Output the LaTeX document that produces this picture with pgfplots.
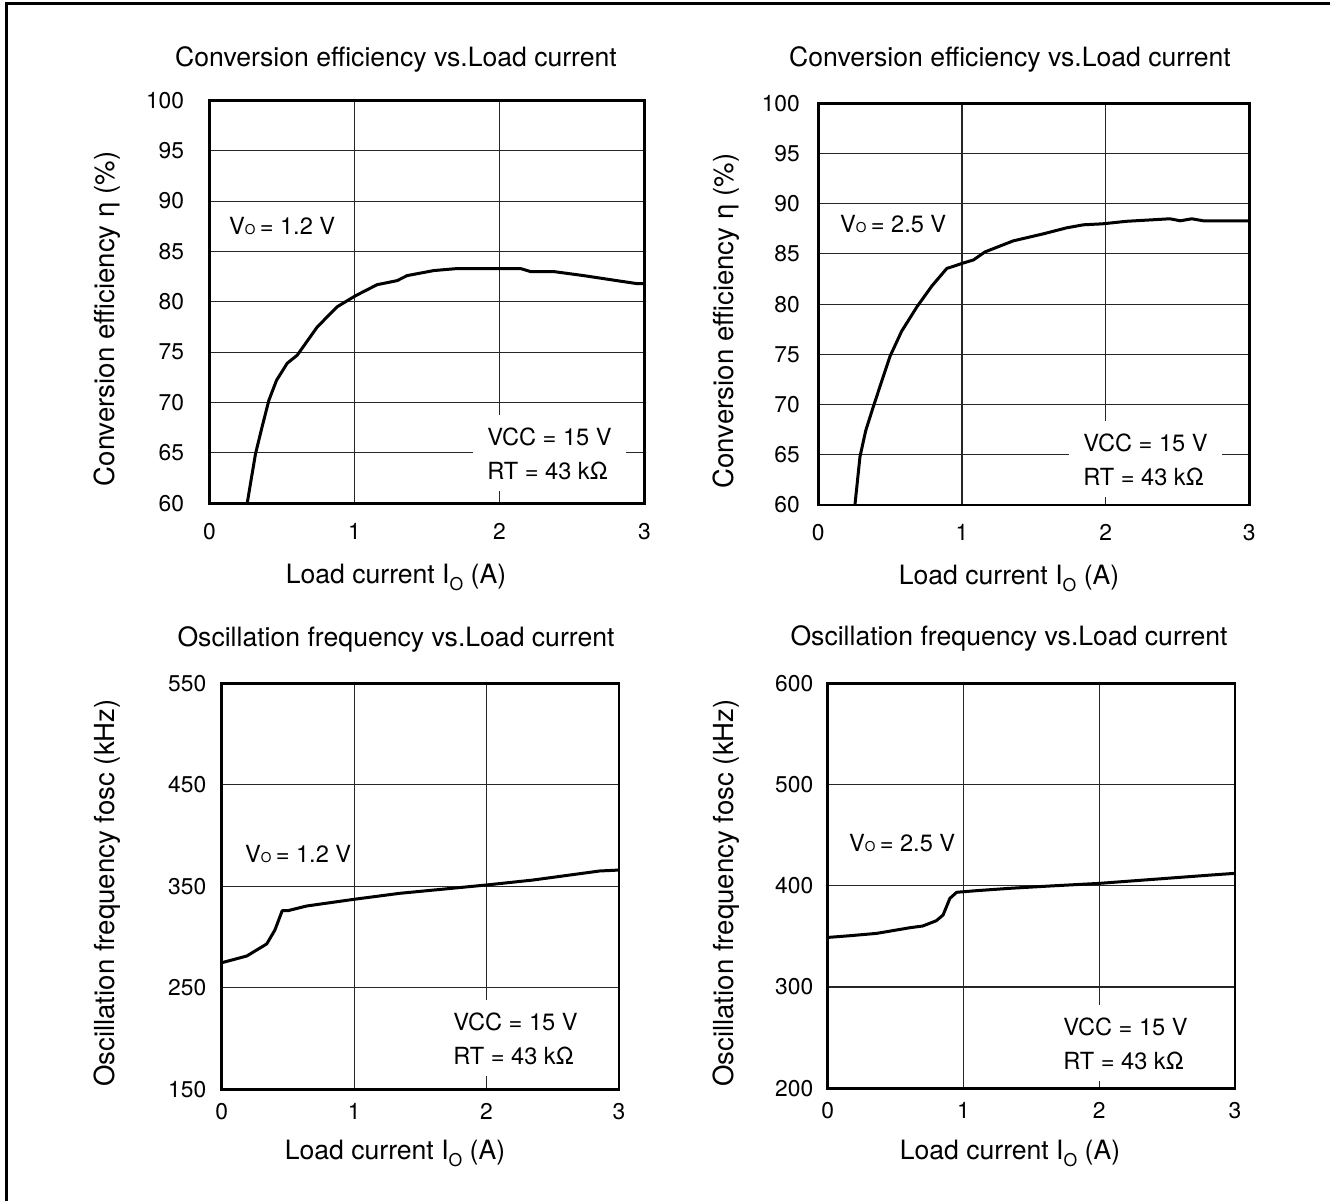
\documentclass[border=0pt]{standalone}
\usepackage{fontspec}
\setmainfont{TeX Gyre Heros}
\usepackage{pgfplots}
\pgfplotsset{compat=1.18}

\newcommand{\lab}{\fontsize{13.3}{16.8}\selectfont}
\newcommand{\ylab}{\fontsize{13.8}{16.8}\selectfont}
\newcommand{\ann}{\fontsize{11.8}{17}\selectfont}
\newcommand{\Vo}{V{\fontsize{6.8}{7}\selectfont O}\kern2.2pt= }
\newcommand{\IO}{I\raisebox{-3.5pt}{\fontsize{8.8}{9}\selectfont O}}
\tikzset{
  note/.style={font=\ann, fill=white, align=left, inner xsep=7pt, inner ysep=6pt, anchor=north west},
  vo/.style={font=\ann, anchor=base west},
  curve/.style={black, line width=1.5pt, line join=round},
}
\pgfplotsset{
  panel/.style={
    scale only axis,
    xmin=0, xmax=3, xtick={0,1,2,3},
    grid=major,
    major grid style={black!85, line width=0.55pt},
    axis line style={line width=1.4pt},
    major tick length=0pt,
    tick style={draw=none},
    /pgf/number format/assume math mode=true,
    tick label style={font=\fontsize{11.4}{12}\selectfont},
    title style={font=\lab, anchor=base},
    xlabel style={font=\lab, anchor=base},
    ylabel style={font=\ylab, anchor=center},
    clip=true,
  },
}

\begin{document}
\begin{tikzpicture}
\path[use as bounding box] (0pt,0pt) rectangle (665pt,600.5pt);
\draw[line width=1.5pt, line join=miter] (3pt,-3pt) -- (3pt,598.5pt) -- (670pt,598.5pt);

% ---------- Plot 1 ----------
\begin{axis}[panel,
  at={(104.75pt,348.85pt)}, anchor=south west,
  width=217.5pt, height=201.5pt,
  ymin=60, ymax=100, ytick={60,65,...,100},
  xticklabel style={yshift=-6.3pt},
  yticklabel style={xshift=-9.2pt},
  title={Conversion efficiency vs.Load current},
  title style={at={(axis description cs:0.4287,1.0553)}},
  xlabel={Load current \IO\ (A)},
  xlabel style={at={(axis description cs:0.4287,-0.2002)}},
  ylabel={Conversion efficiency η (\%)},
  ylabel style={at={(axis description cs:-0.2356,0.4573)}},
]
\addplot[curve] coordinates {
(0.26,60) (0.317,64.9) (0.363,67.6) (0.409,70.2) (0.462,72.2) (0.536,73.9)
(0.605,74.7) (0.743,77.5) (0.88,79.5) (1.007,80.6) (1.156,81.7) (1.294,82.1)
(1.363,82.6) (1.547,83.1) (1.708,83.3) (2.0,83.3) (2.145,83.3) (2.214,83.0)
(2.374,83.0) (2.58,82.6) (2.81,82.1) (2.95,81.8) (3.0,81.8)};
\node[vo] at (axis description cs:0.0287,0.6658) {\Vo 1.2 V};
\node[note] at (axis description cs:0.6057,0.2191) {VCC = 15 V\\RT = 43 kΩ};
\end{axis}

% ---------- Plot 2 ----------
\begin{axis}[panel,
  at={(409.15pt,348pt)}, anchor=south west,
  width=215.5pt, height=200.85pt,
  ymin=60, ymax=100, ytick={60,65,...,100},
  xticklabel style={yshift=-6.3pt},
  yticklabel style={xshift=-5.7pt},
  title={Conversion efficiency vs.Load current},
  title style={at={(axis description cs:0.4448,1.0629)}},
  xlabel={Load current \IO\ (A)},
  xlabel style={at={(axis description cs:0.4425,-0.1967)}},
  ylabel={Conversion efficiency η (\%)},
  ylabel style={at={(axis description cs:-0.2142,0.458)}},
]
\addplot[curve] coordinates {
(0.255,60) (0.29,64.8) (0.33,67.4) (0.383,69.8) (0.499,74.8) (0.58,77.3)
(0.685,79.7) (0.79,81.8) (0.894,83.55) (1.01,84.1) (1.08,84.4) (1.16,85.2)
(1.357,86.3) (1.566,87.0) (1.729,87.6) (1.845,87.9) (1.98,88.0) (2.146,88.25)
(2.447,88.5) (2.52,88.3) (2.6,88.5) (2.68,88.3) (3.0,88.3)};
\node[vo] at (axis description cs:0.0341,0.6796) {\Vo 2.5 V};
\node[note] at (axis description cs:0.5817,0.2091) {VCC = 15 V\\RT = 43 kΩ};
\end{axis}

% ---------- Plot 3 ----------
\begin{axis}[panel,
  at={(110.85pt,55.85pt)}, anchor=south west,
  width=198.65pt, height=203pt,
  ymin=150, ymax=550, ytick={150,250,...,550},
  xticklabel style={yshift=-3.3pt},
  yticklabel style={xshift=-4.2pt},
  title={Oscillation frequency vs.Load current},
  title style={at={(axis description cs:0.4387,1.0623)}},
  xlabel={Load current \IO\ (A)},
  xlabel style={at={(axis description cs:0.4362,-0.1717)}},
  ylabel={Oscillation frequency fosc (kHz)},
  ylabel style={at={(axis description cs:-0.2887,0.4835)}},
]
\addplot[curve] coordinates {
(0,274.7) (0.189,281.3) (0.34,293.2) (0.402,307) (0.457,326) (0.5,326)
(0.642,330.6) (1.0,337.2) (1.345,343.1) (2.0,351.3) (2.352,356.2)
(2.855,365.1) (3.0,366)};
\node[vo] at (axis description cs:0.041,0.5574) {\Vo 1.2 V};
\node[note] at (axis description cs:0.5469,0.22) {VCC = 15 V\\RT = 43 kΩ};
\end{axis}

% ---------- Plot 4 ----------
\begin{axis}[panel,
  at={(413.85pt,56.35pt)}, anchor=south west,
  width=203.65pt, height=202.5pt,
  ymin=200, ymax=600, ytick={200,300,...,600},
  xticklabel style={yshift=-3.3pt},
  yticklabel style={xshift=-3.7pt},
  title={Oscillation frequency vs.Load current},
  title style={at={(axis description cs:0.4451,1.0625)}},
  xlabel={Load current \IO\ (A)},
  xlabel style={at={(axis description cs:0.4475,-0.1746)}},
  ylabel={Oscillation frequency fosc (kHz)},
  ylabel style={at={(axis description cs:-0.2497,0.4822)}},
]
\addplot[curve] coordinates {
(0,349) (0.164,350.7) (0.36,353) (0.606,358.6) (0.70,360.3) (0.8,365.5)
(0.85,371.2) (0.9,387.6) (0.95,393.6) (1.097,395.2) (1.34,397.5)
(1.637,399.8) (2.0,402.4) (2.33,405.7) (2.82,410.6) (3.0,412.3)};
\node[vo] at (axis description cs:0.0351,0.5835) {\Vo 2.5 V};
\node[note] at (axis description cs:0.5433,0.2057) {VCC = 15 V\\RT = 43 kΩ};
\end{axis}
\end{tikzpicture}
\end{document}
